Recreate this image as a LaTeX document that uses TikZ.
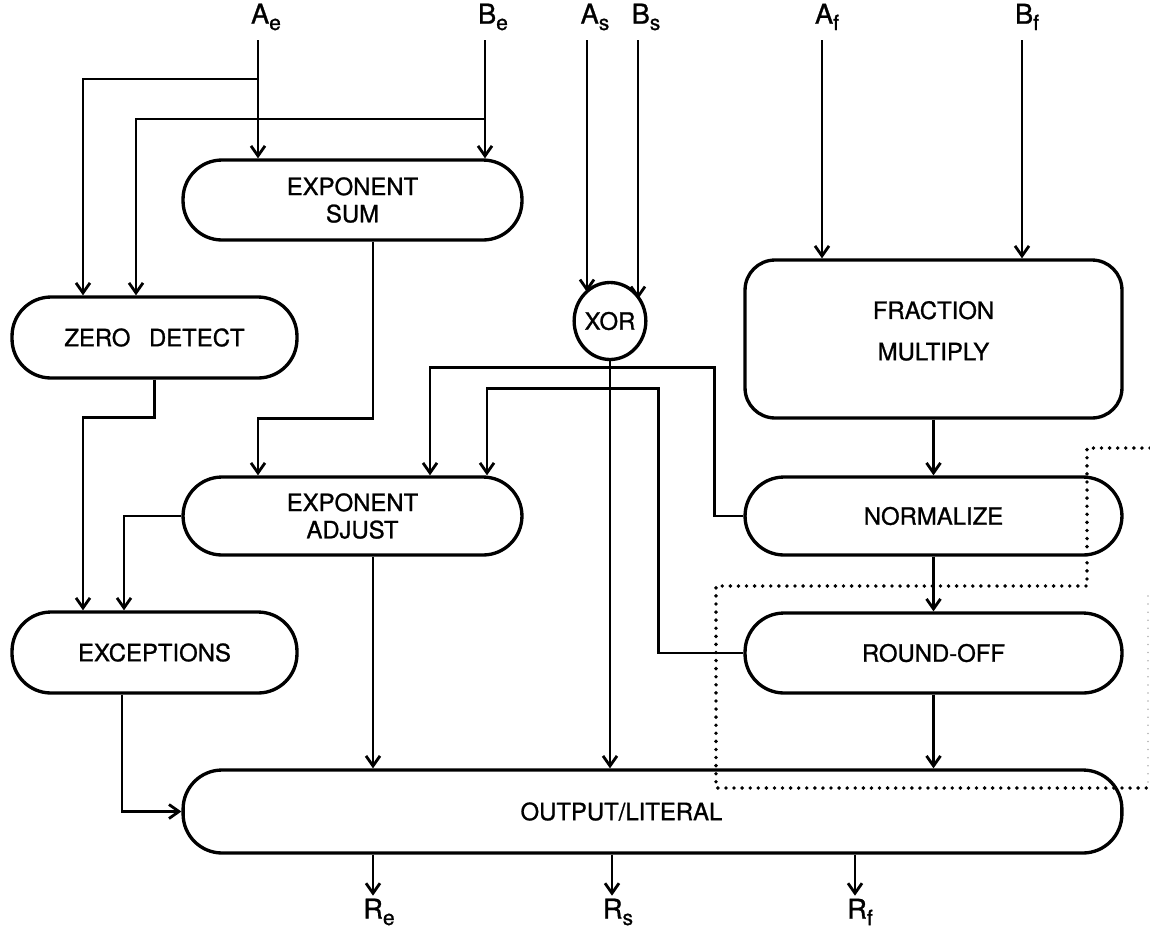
\documentclass[tikz,border=0pt]{standalone}
\usepackage{fontspec}
\setmainfont{TeX Gyre Heros}[FakeBold=1]
\usetikzlibrary{arrows.meta,calc,shapes.geometric}
\newcommand{\sbs}[1]{\raisebox{-0.45ex}{\fontsize{12}{12}\selectfont #1}}
\begin{document}
\begin{tikzpicture}[x=0.02cm,y=-0.02cm,
  font=\fontsize{13.6}{15.5}\selectfont,
  blk/.style={draw,line width=1.9pt,rectangle,rounded corners=0.78cm,align=center,inner sep=0pt},
  fbox/.style={draw,line width=1.9pt,rectangle,rounded corners=0.6cm,align=center,inner sep=0pt},
  wire/.style={line width=1.6pt},
  arr/.style={wire,-{Straight Barb[length=2mm,width=2.8mm,line width=1.6pt]}},
  sig/.style={inner sep=0pt,font=\fontsize{15.5}{17}\selectfont},
  dotline/.style={line width=2.2pt,line cap=round,dash pattern=on 0pt off 4.6pt}]
\useasboundingbox (0,0) rectangle (1150,931);

% blocks
\node[blk,minimum width=6.78cm,minimum height=1.6cm] (ES) at (352.5,200) {EXPONENT\\SUM};
\node[blk,minimum width=5.7cm,minimum height=1.62cm] (ZD) at (154.5,337.5) {ZERO\enspace\ DETECT};
\node[draw,line width=1.9pt,ellipse,minimum width=1.32cm,minimum height=1.54cm,inner sep=0pt] (XOR) at (610,321) {XOR};
\node[fbox,minimum width=7.54cm,minimum height=3.16cm] (FM) at (933.5,339) {FRACTION\\[8pt]MULTIPLY\\[-6pt]};
\node[blk,minimum width=6.78cm,minimum height=1.56cm] (EA) at (352.5,516) {EXPONENT\\ADJUST};
\node[blk,minimum width=7.54cm,minimum height=1.56cm] (NO) at (933.5,516) {NORMALIZE};
\node[blk,minimum width=5.7cm,minimum height=1.62cm] (EX) at (154.5,652.5) {EXCEPTIONS};
\node[blk,minimum width=7.54cm,minimum height=1.6cm] (RO) at (933.5,653) {ROUND-OFF};
\node[blk,minimum width=18.78cm,minimum height=1.66cm] (OUT) at (652.5,811.5) {\hspace*{-2.6em}OUTPUT/LITERAL};

% input labels
\node[sig] (Ael) at (266,17) {A\sbs{e}};
\node[sig] (Bel) at (493,17) {B\sbs{e}};
\node[sig] (Asl) at (595,17) {A\sbs{s}};
\node[sig] (Bsl) at (646,17) {B\sbs{s}};
\node[sig] (Afl) at (827,17) {A\sbs{f}};
\node[sig] (Bfl) at (1027,17) {B\sbs{f}};

\coordinate (ae0) at (258,40);
\coordinate (be0) at (485,40);
\coordinate (as0) at (587,40);
\coordinate (bs0) at (638,40);
\coordinate (af0) at (822,40);
\coordinate (bf0) at (1022,40);
\coordinate (j1) at (258,79);
\coordinate (j2) at (485,119);

% inputs
\draw[arr] (ae0) -- (ae0 |- ES.north);
\draw[arr] (be0) -- (be0 |- ES.north);
\draw[arr] (j1) -| ($(ZD.north)+(-71.5,0)$);
\draw[arr] (j2) -| ($(ZD.north)+(-18.5,0)$);
\draw[arr] (as0) -- ($(XOR.center)+(-23,-29)$);
\draw[arr] (bs0) -- ($(XOR.center)+(28,-22)$);
\draw[arr] (af0) -- (af0 |- FM.north);
\draw[arr] (bf0) -- (bf0 |- FM.north);

% internal connections
\coordinate (ea0) at ($(EA.south)+(20.5,0)$);
\draw[arr] ($(ES.south)+(20.5,0)$) -- ++(0,177) -| ($(EA.north)+(-94.5,0)$);
\draw[arr] (ZD.south) -- ++(0,38) -| ($(EX.north)+(-71.5,0)$);
\draw[arr] (EA.west) -| ($(EX.north)+(-30.5,0)$);
\draw[arr] (ea0) -- (ea0 |- OUT.north);
\draw[arr] ($(EX.south)+(-32.5,0)$) |- (OUT.west);
\draw[arr] (XOR.south) -- (XOR.south |- OUT.north);
\draw[arr] (FM.south) -- (NO.north);
\draw[arr] (NO.south) -- (RO.north);
\draw[arr] (RO.south) -- (RO.south |- OUT.north);
\draw[arr] (NO.west) -- ++(-29,0) |- ($(EA.north)+(77.5,-108)$) -- ($(EA.north)+(77.5,0)$);
\draw[arr] (RO.west) -- ++(-85,0) |- ($(EA.north)+(134.5,-87)$) -- ($(EA.north)+(134.5,0)$);

% outputs
\coordinate (re1) at ($(OUT.south)+(-279.5,41)$);
\coordinate (rs1) at ($(OUT.south)+(-40.5,41)$);
\coordinate (rf1) at ($(OUT.south)+(202.5,41)$);
\draw[arr] (re1 |- OUT.south) -- (re1);
\draw[arr] (rs1 |- OUT.south) -- (rs1);
\draw[arr] (rf1 |- OUT.south) -- (rf1);
\node[sig] (Rel) at (379,912) {R\sbs{e}};
\node[sig] (Rsl) at (618,912) {R\sbs{s}};
\node[sig] (Rfl) at (860,912) {R\sbs{f}};

% dotted outline
\draw[dotline] (1150,448) -- (1087,448) -- (1087,586) -- (716,586) -- (716,788) -- (1150,788);
\draw[dotline,line width=1pt,gray!60] (1148,596) -- (1148,784);
\end{tikzpicture}
\end{document}
